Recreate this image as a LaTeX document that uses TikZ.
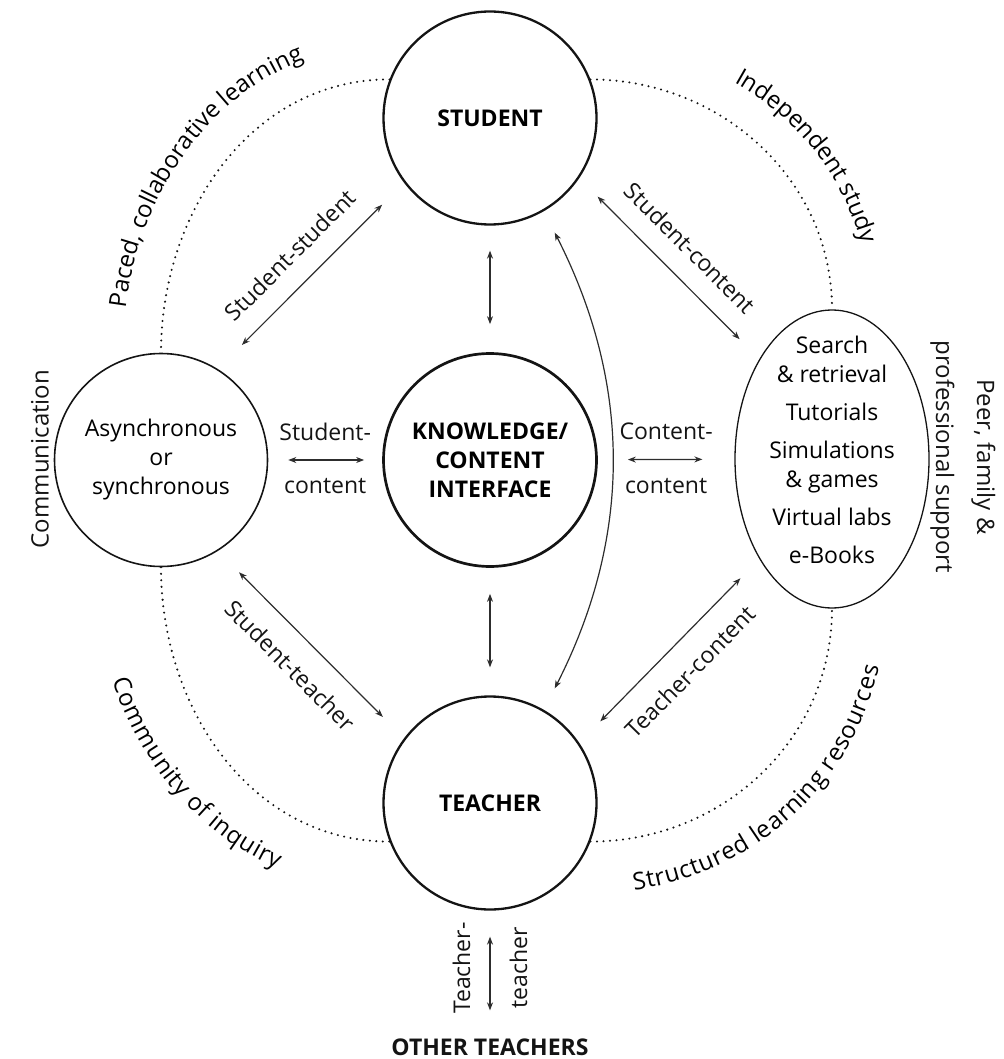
\documentclass[tikz,border=0pt]{standalone}
\usepackage{fontspec}
\setmainfont{Open Sans}
\usepackage{tikz}
\usetikzlibrary{arrows.meta,shapes.geometric,decorations.text}
\definecolor{mdink}{RGB}{20,20,20}
\definecolor{mdarr}{RGB}{45,45,45}
\newcommand\mdtext{\fontsize{23}{29}\selectfont}
\newcommand\mdarc{\fontsize{24}{29}\selectfont}
\tikzset{
  actor/.style={
    circle, draw=mdink, line width=2.3pt, minimum size=213pt, inner sep=0pt,
    align=center, font=\mdtext\bfseries
  },
  hub/.style={actor, line width=2.7pt},
  mode/.style={actor, line width=1.6pt, font=\mdtext},
  pool/.style={
    ellipse, draw=mdink, line width=1.3pt, minimum width=194pt,
    minimum height=298pt, inner sep=0pt, font=\mdtext
  },
  arr/.style={{Stealth[length=8pt,width=6pt]}-{Stealth[length=8pt,width=6pt]}, draw=mdarr, line width=1.2pt},
  lbl/.style={font=\mdtext, text=mdink, inner sep=2pt},
  ring/.style={draw=mdink, line width=2.3pt, dash pattern=on 0pt off 6.5pt, line cap=round},
  arclbl/.style={decorate, decoration={text along path, text align=center}},
  every picture/.append style={line join=round}
}
\begin{document}
\begin{tikzpicture}[x=1pt,y=1pt]
  \useasboundingbox (0,0) rectangle (1003,-1059);
  % the four partners
  \node[actor] (stu) at (490,-118) {STUDENT};
  \node[hub] (know) at (490,-460) {KNOWLEDGE/\\CONTENT\\INTERFACE};
  \node[actor] (tea) at (490,-803) {TEACHER};
  \node[mode] (async) at (161,-460) {Asynchronous\\or\\synchronous};
  \node[pool] (res) at (832,-459) {\smash{\begin{tabular}{@{}c@{}}Search\\\& retrieval\\[9pt]Tutorials\\[9pt]Simulations\\\& games\\[9pt]Virtual labs\\[9pt]e-Books\end{tabular}}};
  \node[lbl, font=\mdtext\bfseries, inner sep=0pt] (other) at (490,-1047) {OTHER TEACHERS};

  % outer ring
  \draw[ring] (stu.159) to[out=180,in=90] (async.north);
  \draw[ring] (stu.21) to[out=0,in=90] (res.north);
  \draw[ring] (async.south) to[out=-90,in=180] (tea.201);
  \draw[ring] (tea.339) to[out=0,in=-90] (res.south);

  % interactions
  \draw[arr, shorten <=25pt, shorten >=28pt] (stu) -- (know);
  \draw[arr, shorten <=26pt, shorten >=28pt] (know) -- (tea);
  \draw[arr, shorten <=20pt, shorten >=18pt] (async) -- (know)
    node[lbl, midway, above=17pt] (sc1) {Student-}
    node[lbl, midway, below=16pt] (sc2) {content};
  \draw[arr, shorten <=30pt, shorten >=32pt] (know) -- (res)
    node[lbl, midway, above=17pt] (cc1) {Content-}
    node[lbl, midway, below=16pt] (cc2) {content};
  \draw[arr, shorten <=34pt, shorten >=31pt] (async.58) -- (stu.217)
    node[lbl, midway, sloped, above=18pt] (ss) {Student-student};
  \draw[arr, shorten <=26pt, shorten >=28pt] (stu.326) -- (res.126)
    node[lbl, midway, sloped, above=18pt] (sr) {Student-content};
  \draw[arr, shorten <=30pt, shorten >=30pt] (async.302) -- (tea.143)
    node[lbl, midway, sloped, below=18pt] (st) {Student-teacher};
  \draw[arr, shorten <=30pt, shorten >=27pt] (tea.34) -- (res.234)
    node[lbl, midway, sloped, below=18pt] (tc) {Teacher-content};
  \draw[arr, shorten <=24pt, shorten >=24pt] (stu.300) to[bend left=27] (tea.60);
  \draw[arr, shorten <=28pt, shorten >=26pt] (other) -- (tea)
    node[lbl, pos=.55, sloped, above=17pt] (tt1) {Teacher-}
    node[lbl, pos=.55, sloped, below=17pt] (tt2) {teacher};

  % ring labels
  \coordinate (tl) at (388,-352);
  \coordinate (tr) at (595,-305);
  \coordinate (bl) at (387,-570);
  \coordinate (br) at (592,-610);
  \path[arclbl, decoration={text={|\mdarc|Paced, collaborative learning}}]
    ([shift={(180:265 and 308)}]tl) arc[start angle=180, end angle=99, x radius=265, y radius=308];
  \path[arclbl, decoration={text={|\mdarc|Independent study}}]
    ([shift={(80:274 and 258)}]tr) arc[start angle=80, end angle=-8, x radius=274, y radius=258];
  \path[arclbl, decoration={raise=-17pt, text={|\mdarc|Community of inquiry}}]
    ([shift={(180:275 and 305)}]bl) arc[start angle=180, end angle=270, x radius=275, y radius=305];
  \path[arclbl, decoration={raise=-17pt, text={|\mdarc|Structured learning resources}}]
    ([shift={(270:276 and 266)}]br) arc[start angle=270, end angle=357, x radius=276, y radius=266];
  \node[lbl, rotate=90, font=\mdarc] (comm) at (40,-459) {Communication};
  \node[lbl, rotate=-90, align=center, font=\mdarc] (peer) at (963,-457) {Peer, family \&\\[12pt]professional support};
\end{tikzpicture}
\end{document}
